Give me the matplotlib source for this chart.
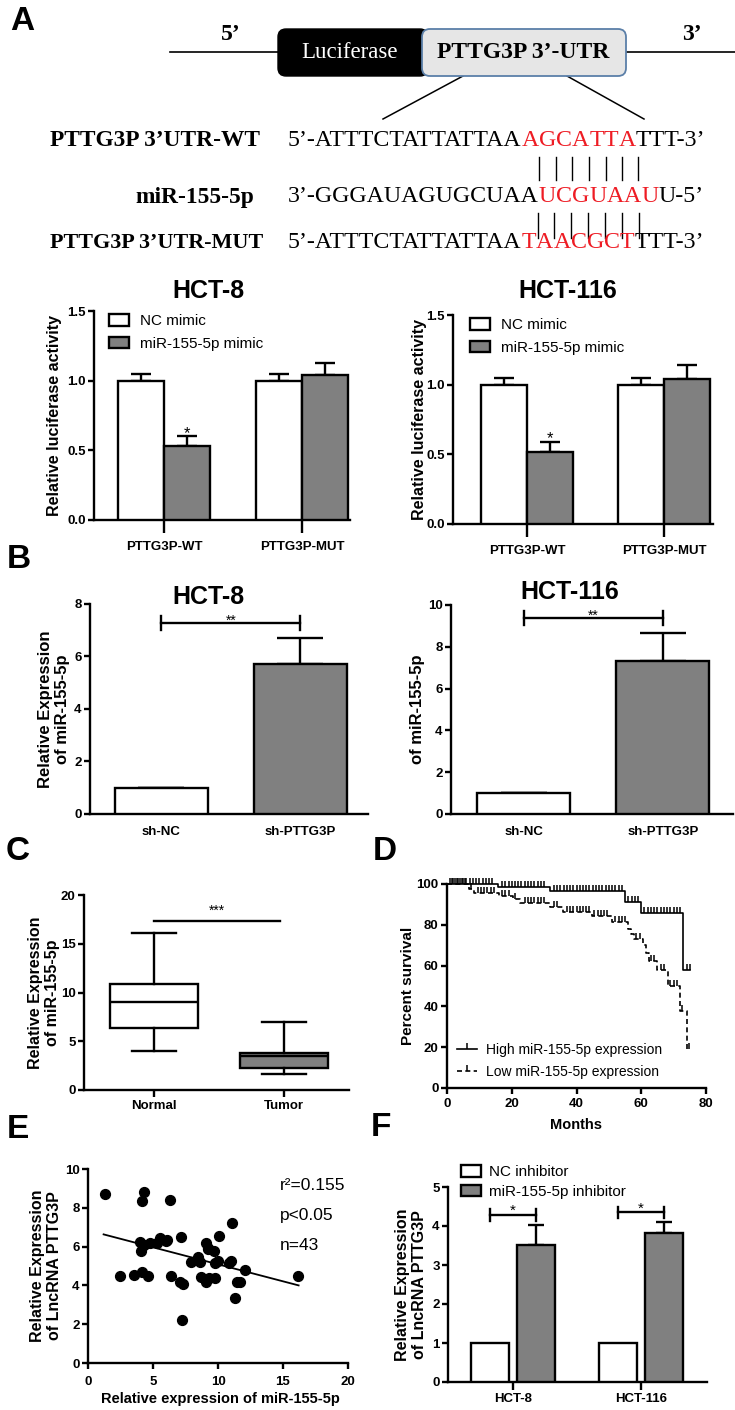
import numpy as np
import matplotlib
matplotlib.use('Agg')
import matplotlib.pyplot as plt
from matplotlib.patches import FancyBboxPatch, Patch
from matplotlib.lines import Line2D
from matplotlib.ticker import FormatStrFormatter

# ---------------------------------------------------------------- data
# Panel A : luciferase reporter
a_groups = ['PTTG3P-WT', 'PTTG3P-MUT']
a_series = ['NC mimic', 'miR-155-5p mimic']
a8_nc = [1.00, 1.00]
a8_nc_err = [0.05, 0.05]
a8_mir = [0.53, 1.04]
a8_mir_err = [0.07, 0.09]
a116_nc = [1.00, 1.00]
a116_nc_err = [0.05, 0.05]
a116_mir = [0.52, 1.04]
a116_mir_err = [0.07, 0.10]
a_sig = ['*', '']
a_yticks = [0.0, 0.5, 1.0, 1.5]

# Panel B : miR-155-5p after PTTG3P knock-down
b_groups = ['sh-NC', 'sh-PTTG3P']
b8_vals = [1.0, 5.70]
b8_err = [0.0, 1.02]
b8_bracket = 7.28
b8_yticks = [0, 2, 4, 6, 8]
b116_vals = [1.0, 7.33]
b116_err = [0.0, 1.32]
b116_bracket = 9.39
b116_yticks = [0, 2, 4, 6, 8, 10]

# Panel C : box plot tissue expression
c_groups = ['Normal', 'Tumor']
c_whislo = [4.0, 1.65]
c_q1 = [6.33, 2.22]
c_med = [9.06, 3.45]
c_q3 = [10.84, 3.83]
c_whishi = [16.1, 6.94]
c_bracket = 17.37
c_yticks = [0, 5, 10, 15, 20]

# Panel D : Kaplan-Meier
d_labels = ['High miR-155-5p expression', 'Low miR-155-5p expression']
d_high_t = [0, 15.8, 31.8, 55.0, 60.0, 73.0, 75.0]
d_high_s = [100, 98.4, 96.7, 91.0, 86.0, 57.8, 57.8]
d_high_cens = [1, 2, 3, 4, 5, 6, 7, 8, 9, 10, 11, 12, 13, 14,
               17, 18, 19, 20, 21, 22, 23, 24, 25, 26, 27, 28, 29, 30,
               33, 34, 35, 36, 37, 38, 39, 40, 41, 42, 43, 44, 45, 46, 47,
               48, 49, 50, 51, 52, 53, 54, 56, 57, 58, 59,
               61, 62, 63, 64, 65, 66, 67, 68, 69, 70, 71, 72, 74, 75]
d_low_t = [0, 6.9, 8.3, 16.0, 20.5, 22.5, 31.8, 35.8, 44.7, 51.0, 56.0,
           56.8, 57.8, 60.6, 61.6, 62.3, 65.0, 68.4, 72.0, 74.1, 75.0]
d_low_s = [100, 97.6, 95.5, 94.3, 92.5, 90.6, 88.7, 86.5, 84.5, 81.2, 78.0,
           75.5, 73.0, 70.0, 66.0, 62.5, 57.8, 50.0, 37.8, 19.0, 19.0]
d_low_cens = [1.5, 2.5, 3.5, 4.5, 5.5, 7.5, 9.5, 10.5, 11.5, 12.5, 13.5, 14.5,
              17, 18, 19, 21, 24, 25, 26, 27, 28, 29, 30, 33, 34,
              37, 38, 39, 40, 41, 42, 43, 44, 45.5, 46.5, 47.5, 48.5, 49.5,
              52, 53, 54, 55, 58.5, 59.5, 63, 64, 66, 67, 69, 70, 71, 72.6, 74.6]
d_xticks = [0, 20, 40, 60, 80]
d_yticks = [0, 20, 40, 60, 80, 100]

# Panel E : correlation
e_x = [1.33, 4.28, 4.18, 6.28, 11.08, 2.49, 3.54, 4.15, 4.64, 4.00, 4.10,
       4.28, 4.74, 5.33, 5.51, 6.10, 6.03, 6.41, 7.18, 7.10, 7.31, 7.26,
       7.95, 8.46, 8.59, 8.72, 9.05, 9.23, 9.10, 9.31, 9.67, 9.74, 9.74,
       10.00, 10.05, 10.85, 11.03, 11.28, 11.46, 11.72, 12.10, 16.15, 9.20]
e_y = [8.71, 8.83, 8.35, 8.40, 7.24, 4.46, 4.55, 4.68, 4.49, 6.23, 5.78,
       6.09, 6.17, 6.21, 6.43, 6.35, 6.30, 4.49, 6.47, 4.17, 4.07, 2.20,
       5.23, 5.44, 5.20, 4.43, 6.17, 5.88, 4.17, 4.37, 5.75, 5.15, 4.37,
       5.27, 6.57, 5.15, 5.27, 3.34, 4.20, 4.17, 4.79, 4.46, 5.95]
e_fit_x = [1.2, 16.2]
e_fit_y = [6.63, 4.00]
e_stats = ['r\u00b2=0.155', 'p<0.05', 'n=43']
e_xticks = [0, 5, 10, 15, 20]
e_yticks = [0, 2, 4, 6, 8, 10]

# Panel F : PTTG3P after miR-155-5p inhibition
f_groups = ['HCT-8', 'HCT-116']
f_series = ['NC inhibitor', 'miR-155-5p inhibitor']
f_nc = [1.0, 1.0]
f_inh = [3.51, 3.81]
f_inh_err = [0.52, 0.30]
f_bracket = [4.28, 4.35]
f_yticks = [0, 1, 2, 3, 4, 5]

# ---------------------------------------------------------------- style
W, H = 735, 1410
SANS = 'Liberation Sans'
SERIF = 'Liberation Serif'
plt.rcParams['font.family'] = [SANS, 'DejaVu Sans']
plt.rcParams['font.weight'] = 'bold'
plt.rcParams['axes.labelweight'] = 'bold'
GRAY = '#808080'
RED = '#ee1c24'
LW = 1.7
TICK_FS = 9.5

fig = plt.figure(figsize=(W / 100, H / 100), dpi=100)

# overlay axes in pixel coordinates (for diagram & annotations)
ov = fig.add_axes([0, 0, 1, 1])
ov.set_xlim(0, W)
ov.set_ylim(H, 0)
ov.axis('off')


def ax_at(l, t, r, b):
    return fig.add_axes([l / W, 1 - b / H, (r - l) / W, (b - t) / H])


def prism(ax, xlim, ylim, yticks, xlen=9, xpad=6):
    ax.set_xlim(*xlim)
    ax.set_ylim(*ylim)
    ax.set_yticks(yticks)
    for s in ('top', 'right'):
        ax.spines[s].set_visible(False)
    for s in ('left', 'bottom'):
        ax.spines[s].set_linewidth(LW)
    ax.tick_params(axis='y', length=4.5, width=LW, labelsize=TICK_FS, pad=1.5)
    ax.tick_params(axis='x', length=xlen, width=LW, labelsize=TICK_FS, pad=xpad)
    ax.patch.set_visible(False)


def ylab(ax, text, xr, size=11.5):
    ax.set_ylabel(text, fontsize=size, linespacing=1.15)
    b = ax.get_position()
    yc = (1 - (b.y0 + b.height / 2)) * H
    ax.yaxis.set_label_coords(xr, yc, transform=ov.transData)


def panel_letter(x, y, s):
    ov.text(x, y, s, fontsize=24, weight='bold', ha='center', va='center')


# ---------------------------------------------------------------- diagram (A top)
panel_letter(22, 22, 'A')
ov.plot([170, 735], [52, 52], color='k', lw=1.2, zorder=1)
ov.add_patch(FancyBboxPatch((278, 29), 150, 47, boxstyle='round,pad=0,rounding_size=8',
                            fc='black', ec='black', lw=1, zorder=2))
ov.add_patch(FancyBboxPatch((422, 29), 204, 47, boxstyle='round,pad=0,rounding_size=8',
                            fc='#e6e6e6', ec='#5b7fa8', lw=1.3, zorder=3))
ov.text(350, 53, 'Luciferase', color='white', family=SERIF, fontsize=16.5,
        weight='normal', ha='center', va='center', zorder=4)
ov.text(523, 53, 'PTTG3P 3\u2019-UTR', color='black', family=SERIF, fontsize=17,
        weight='bold', ha='center', va='center', zorder=4)
ov.text(231, 35, '5\u2019', family=SERIF, fontsize=17, weight='bold', ha='center', va='center')
ov.text(692, 35, '3\u2019', family=SERIF, fontsize=17, weight='bold', ha='center', va='center')
ov.plot([463, 383], [76, 119], color='k', lw=1.1)
ov.plot([567, 644], [76, 119], color='k', lw=1.1)

renderer = fig.canvas.get_renderer()
SEQ_FS = 17.2
LAB_FS = 16.8


def seq_row(x0, y, parts):
    x = x0
    centers = []
    for txt, red in parts:
        if red:
            for ch in txt:
                t = ov.text(x, y, ch, color=RED, family=SERIF, fontsize=SEQ_FS,
                            weight='normal', ha='left', va='center')
                w = t.get_window_extent(renderer).width
                centers.append(x + w / 2)
                x += w
        else:
            t = ov.text(x, y, txt, color='black', family=SERIF, fontsize=SEQ_FS,
                        weight='normal', ha='left', va='center')
            x += t.get_window_extent(renderer).width
    return centers


row_y = [141, 197, 243]
ov.text(50, row_y[0], 'PTTG3P 3\u2019UTR-WT', family=SERIF, fontsize=LAB_FS, weight='bold', ha='left', va='center')
ov.text(135, row_y[1], 'miR-155-5p', family=SERIF, fontsize=LAB_FS, weight='bold', ha='left', va='center')
ov.text(50, row_y[2], 'PTTG3P 3\u2019UTR-MUT', family=SERIF, fontsize=15.9, weight='bold', ha='left', va='center')
c1 = seq_row(288, row_y[0], [('5\u2019-ATTTCTATTATTAA', False), ('AGCATTA', True), ('TTT-3\u2019', False)])
c2 = seq_row(288, row_y[1], [('3\u2019-GGGAUAGUGCUAA', False), ('UCGUAAU', True), ('U-5\u2019', False)])
c3 = seq_row(288, row_y[2], [('5\u2019-ATTTCTATTATTAA', False), ('TAACGCT', True), ('TTT-3\u2019', False)])
for xa, xb in zip(c1, c2):
    xm = (xa + xb) / 2
    ov.plot([xm, xm], [157, 180], color='k', lw=1.0)
for xa, xb in zip(c2, c3):
    xm = (xa + xb) / 2
    ov.plot([xm, xm], [213, 238], color='k', lw=1.0)


# ---------------------------------------------------------------- A bar charts
def a_chart(box, xlim, nc, nce, mir, mire, title, tpos, ylx, legpos):
    ax = ax_at(*box)
    prism(ax, xlim, (0, 1.5), a_yticks, xlen=9, xpad=6)
    ax.yaxis.set_major_formatter(FormatStrFormatter('%.1f'))
    x = np.arange(len(a_groups))
    off, w = 1 / 6, 1 / 3
    ax.bar(x - off, nc, w, color='white', edgecolor='black', lw=LW, zorder=3, label=a_series[0])
    ax.bar(x + off, mir, w, color=GRAY, edgecolor='black', lw=LW, zorder=3, label=a_series[1])
    ax.errorbar(x - off, nc, yerr=[np.zeros(len(nc)), nce], fmt='none', ecolor='k',
                elinewidth=LW, capsize=7, capthick=LW, zorder=2)
    ax.errorbar(x + off, mir, yerr=[np.zeros(len(mir)), mire], fmt='none', ecolor='k',
                elinewidth=LW, capsize=7, capthick=LW, zorder=2)
    for xi, v, e, s in zip(x + off, mir, mire, a_sig):
        if s:
            ax.text(xi, v + e + 0.02, s, ha='center', va='center', fontsize=12, weight='normal')
    ax.set_xticks(x, a_groups)
    ov.text(tpos[0], tpos[1], title, fontsize=18, weight='bold', ha='center', va='baseline')
    ylab(ax, 'Relative luciferase activity', ylx)
    handles = [Patch(fc='white', ec='black', lw=LW), Patch(fc=GRAY, ec='black', lw=LW)]
    ax.legend(handles, a_series, loc='upper left', bbox_to_anchor=legpos,
              bbox_transform=ov.transData, frameon=False, borderpad=0, borderaxespad=0,
              handlelength=1.3, handleheight=0.8, handletextpad=0.75, labelspacing=0.55,
              prop={'family': SANS, 'size': 11, 'weight': 'normal'})
    return ax


a_chart((94, 311, 350, 520), (-0.507, 1.348), a8_nc, a8_nc_err, a8_mir, a8_mir_err,
        'HCT-8', (208, 298), 62, (109, 314))
a_chart((453, 315, 713, 524), (-0.54, 1.358), a116_nc, a116_nc_err, a116_mir, a116_mir_err,
        'HCT-116', (568, 298), 427, (470, 318))


# ---------------------------------------------------------------- B bar charts
def b_chart(box, xlim, vals, err, bracket, yticks, ymax, title, tpos, label, ylx, dtick):
    ax = ax_at(*box)
    prism(ax, xlim, (0, ymax), yticks, xlen=0, xpad=9)
    x = np.arange(len(b_groups))
    ax.bar(x, vals, 0.67, color=['white', GRAY], edgecolor='black', lw=LW, zorder=3)
    ax.errorbar(x, vals, yerr=[np.zeros(len(vals)), err], fmt='none', ecolor='k',
                elinewidth=LW, capsize=16.5, capthick=LW, zorder=2)
    ax.plot([x[0], x[1]], [bracket, bracket], color='k', lw=LW, clip_on=False)
    for xi in x:
        ax.plot([xi, xi], [bracket - dtick, bracket + dtick], color='k', lw=LW, clip_on=False)
    ax.text((x[0] + x[1]) / 2, bracket + dtick * 0.35, '**', ha='center', va='center',
            fontsize=10, weight='normal')
    ax.set_xticks(x, b_groups)
    ov.text(tpos[0], tpos[1], title, fontsize=18, weight='bold', ha='center', va='baseline')
    ylab(ax, label, ylx, size=12)
    return ax


panel_letter(19, 559, 'B')
b_chart((90, 604, 368, 814), (-0.514, 1.486), b8_vals, b8_err, b8_bracket, b8_yticks, 8,
        'HCT-8', (208, 604), 'Relative Expression\nof miR-155-5p', 70, 0.27)
b_chart((451, 605, 733, 814), (-0.525, 1.505), b116_vals, b116_err, b116_bracket, b116_yticks, 10,
        'HCT-116', (570, 599), 'of miR-155-5p', 425, 0.33)

# ---------------------------------------------------------------- C box plot
panel_letter(18, 851, 'C')
axc = ax_at(84, 895, 349, 1090)
prism(axc, (-0.538, 1.5), (0, 20), c_yticks, xlen=5, xpad=2)
stats = [dict(label=g, whislo=lo, q1=q1, med=m, q3=q3, whishi=hi, fliers=[])
         for g, lo, q1, m, q3, hi in zip(c_groups, c_whislo, c_q1, c_med, c_q3, c_whishi)]
bp = axc.bxp(stats, positions=[0, 1], widths=0.68, capwidths=0.34, patch_artist=True,
             showfliers=False,
             boxprops=dict(lw=LW, edgecolor='black'),
             medianprops=dict(color='black', lw=LW),
             whiskerprops=dict(color='black', lw=LW),
             capprops=dict(color='black', lw=LW))
for patch, fc in zip(bp['boxes'], ['white', GRAY]):
    patch.set_facecolor(fc)
axc.plot([0, 0.97], [c_bracket, c_bracket], color='k', lw=LW)
axc.text(0.485, c_bracket + 0.3, '***', ha='center', va='bottom', fontsize=10, weight='normal')
ylab(axc, 'Relative Expression\nof miR-155-5p', 60, size=11.5)

# ---------------------------------------------------------------- D survival
panel_letter(385, 851, 'D')
axd = ax_at(447, 884, 706, 1088)
prism(axd, (0, 80), (0, 100), d_yticks, xlen=4.5, xpad=3)
axd.set_xticks(d_xticks)


def km(t, s, cens, ls):
    t = np.asarray(t)
    s = np.asarray(s)
    axd.step(t, s, where='post', color='k', lw=1.2, ls=ls, clip_on=False)
    idx = np.searchsorted(t, cens, side='right') - 1
    axd.plot(cens, s[idx], ls='none', marker=2, ms=4, mew=1.1, color='k', clip_on=False)


km(d_high_t, d_high_s, d_high_cens, '-')
km(d_low_t, d_low_s, d_low_cens, (0, (3, 2)))
dh = [Line2D([], [], color='k', lw=1.2, marker=2, ms=4, mew=1.1),
      Line2D([], [], color='k', lw=1.2, ls=(0, (3, 2)), marker=2, ms=4, mew=1.1)]
axd.legend(dh, d_labels, loc='upper left', bbox_to_anchor=(457, 1043), bbox_transform=ov.transData,
           frameon=False, borderpad=0, borderaxespad=0, handlelength=1.45, handletextpad=0.65,
           labelspacing=0.6, prop={'family': SANS, 'size': 10, 'weight': 'normal'})
axd.set_xlabel('Months', fontsize=10.5)
axd.xaxis.set_label_coords(576.5, 1118, transform=ov.transData)
ylab(axd, 'Percent survival', 415, size=11)

# ---------------------------------------------------------------- E scatter
panel_letter(18, 1130, 'E')
axe = ax_at(88, 1169, 348, 1363)
prism(axe, (0, 20), (0, 10), e_yticks, xlen=4.5, xpad=5)
axe.set_xticks(e_xticks)
axe.scatter(e_x, e_y, s=50, color='black', zorder=3, clip_on=False)
axe.plot(e_fit_x, e_fit_y, color='black', lw=1.3)
for i, s in enumerate(e_stats):
    ov.text(280, 1186 + 29.5 * i, s, fontsize=12.5, weight='normal', ha='left', va='center')
axe.set_xlabel('Relative expression of miR-155-5p', fontsize=10.5)
axe.xaxis.set_label_coords(220, 1392, transform=ov.transData)
ylab(axe, 'Relative Expression\nof LncRNA PTTG3P', 62, size=11.5)

# ---------------------------------------------------------------- F bars
panel_letter(381, 1127, 'F')
axf = ax_at(448, 1187, 707, 1382)
prism(axf, (-0.508, 1.516), (0, 5), f_yticks, xlen=6, xpad=2)
xf = np.arange(len(f_groups))
axf.bar(xf - 0.18, f_nc, 0.3, color='white', edgecolor='black', lw=LW, zorder=3)
axf.bar(xf + 0.18, f_inh, 0.3, color=GRAY, edgecolor='black', lw=LW, zorder=3)
axf.errorbar(xf + 0.18, f_inh, yerr=[np.zeros(len(f_inh)), f_inh_err], fmt='none', ecolor='k',
             elinewidth=LW, capsize=6, capthick=LW, zorder=2)
for xi, by in zip(xf, f_bracket):
    axf.plot([xi - 0.18, xi + 0.18], [by, by], color='k', lw=LW, clip_on=False)
    for xx in (xi - 0.18, xi + 0.18):
        axf.plot([xx, xx], [by - 0.15, by + 0.15], color='k', lw=LW, clip_on=False)
    axf.text(xi, by + 0.1, '*', ha='center', va='center', fontsize=11, weight='normal')
axf.set_xticks(xf, f_groups)
fh = [Patch(fc='white', ec='black', lw=LW), Patch(fc=GRAY, ec='black', lw=LW)]
axf.legend(fh, f_series, loc='upper left', bbox_to_anchor=(461, 1165), bbox_transform=ov.transData,
           frameon=False, borderpad=0, borderaxespad=0, handlelength=1.3, handleheight=0.8,
           handletextpad=0.55, labelspacing=0.35,
           prop={'family': SANS, 'size': 11, 'weight': 'normal'})
ylab(axf, 'Relative Expression\nof LncRNA PTTG3P', 427, size=11.5)

fig.savefig('out.png', dpi=100)
